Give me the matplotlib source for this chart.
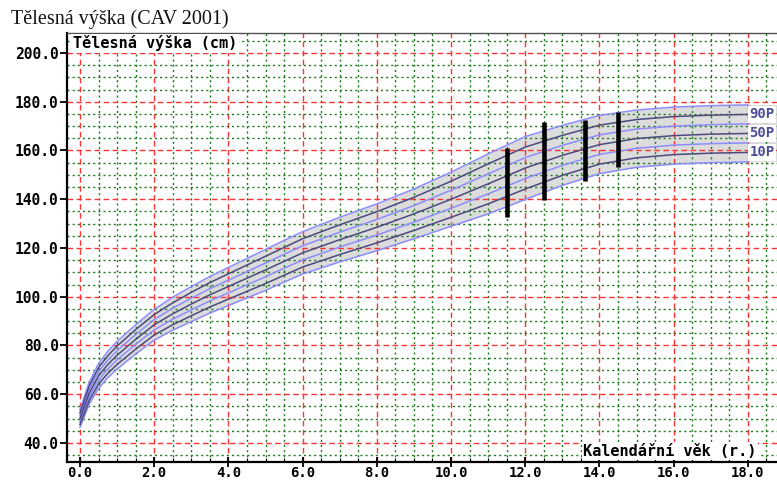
import matplotlib
matplotlib.use("Agg")
import matplotlib.pyplot as plt
from matplotlib.ticker import MultipleLocator, FormatStrFormatter

# ---- data ----
ages = [0, 0.25, 0.5, 0.75, 1, 1.5, 2, 2.5, 3, 3.5, 4, 4.5, 5, 5.5, 6, 7, 8, 9, 10,
        11, 12, 13, 14, 15, 16, 17, 18]
p3  = [46.4, 56.0, 62.4, 66.8, 70.3, 76.5, 82.2, 86.3, 89.8, 93.3, 96.4, 99.5, 102.6, 106.0,
       109.3, 114.3, 118.9, 123.8, 128.9, 134.0, 139.9, 145.7, 150.5, 153.1, 154.4, 155.0, 155.3]
p10 = [47.6, 57.5, 64.1, 68.6, 72.2, 78.5, 84.3, 88.5, 92.2, 95.8, 99.0, 102.2, 105.4, 108.8,
       112.2, 117.3, 122.1, 127.2, 132.6, 138.1, 144.2, 149.8, 154.4, 157.0, 158.3, 158.9, 159.2]
p25 = [48.8, 59.0, 65.8, 70.4, 74.1, 80.5, 86.4, 90.8, 94.6, 98.3, 101.6, 104.9, 108.2, 111.7,
       115.1, 120.4, 125.3, 130.6, 136.3, 142.2, 148.5, 153.9, 158.4, 160.9, 162.2, 162.8, 163.1]
p50 = [50.0, 60.5, 67.5, 72.2, 76.0, 82.5, 88.5, 93.0, 97.0, 100.8, 104.2, 107.6, 111.0, 114.5,
       118.0, 123.4, 128.5, 134.0, 140.0, 146.3, 152.8, 158.0, 162.4, 164.9, 166.1, 166.7, 167.0]
p75 = [51.2, 62.0, 69.2, 74.0, 77.9, 84.5, 90.6, 95.3, 99.4, 103.3, 106.8, 110.3, 113.8, 117.4,
       120.9, 126.5, 131.7, 137.4, 143.7, 150.4, 157.1, 162.1, 166.4, 168.8, 170.0, 170.6, 170.9]
p90 = [52.4, 63.5, 70.9, 75.8, 79.8, 86.5, 92.7, 97.5, 101.8, 105.8, 109.4, 113.0, 116.6, 120.2,
       123.8, 129.5, 134.9, 140.8, 147.4, 154.5, 161.4, 166.2, 170.4, 172.7, 173.9, 174.5, 174.8]
p97 = [53.6, 65.0, 72.6, 77.6, 81.7, 88.5, 94.8, 99.8, 104.2, 108.3, 112.0, 115.7, 119.4, 123.1,
       126.7, 132.6, 138.1, 144.2, 151.1, 158.6, 165.7, 170.3, 174.4, 176.6, 177.8, 178.4, 178.7]

bar_ages = [11.5, 12.5, 13.6, 14.5]
bar_low  = [132.8, 139.8, 147.5, 153.4]
bar_high = [161.0, 171.8, 172.5, 175.7]

dark_labels = ["90P", "50P", "10P"]
x_ticks = [0, 2, 4, 6, 8, 10, 12, 14, 16, 18]
y_ticks = [40, 60, 80, 100, 120, 140, 160, 180, 200]

title = "Tělesná výška (CAV 2001)"
ylabel = "Tělesná výška (cm)"
xlabel = "Kalendářní věk (r.)"

# ---- figure ----
W, H = 777, 480
fig = plt.figure(figsize=(W / 100, H / 100), dpi=100)
fig.patch.set_facecolor("white")
ax = fig.add_axes([67 / W, 18 / H, 718 / W, 429 / H])
XMIN, XMAX = -0.35, 19.0
ax.set_xlim(XMIN, XMAX)
ax.set_ylim(32.2, 208.2)

mono = "DejaVu Sans Mono"

# band
ax.fill_between(ages, p3, p97, color="#dcdcdc", lw=0, zorder=1)
ax.fill_between([ages[-1], XMAX], [p3[-1]] * 2, [p97[-1]] * 2, color="#dcdcdc", lw=0, zorder=1)

light = "#8c8cff"
dark = "#4a4a7e"
for arr in (p97, p75, p25, p3):
    ax.plot(ages, arr, color=light, lw=1.1, zorder=2)
for arr in (p90, p50, p10):
    ax.plot(ages, arr, color=dark, lw=1.1, zorder=2.1)

for val, name in zip((p90[-1], p50[-1], p10[-1]), dark_labels):
    ax.text(ages[-1] + 0.04, val, name, ha="left", va="center", color="#4b4b9a",
            fontfamily=mono, fontweight="bold", fontsize=10,
            bbox=dict(boxstyle="square,pad=0.12", fc="white", ec="none"), zorder=4)

# measurement bars
ax.vlines(bar_ages, bar_low, bar_high, color="black", lw=3.3, zorder=3)

# grid
ax.xaxis.set_major_locator(plt.FixedLocator(x_ticks))
ax.yaxis.set_major_locator(plt.FixedLocator(y_ticks))
ax.xaxis.set_minor_locator(MultipleLocator(0.5))
ax.yaxis.set_minor_locator(MultipleLocator(5))
ax.xaxis.set_major_formatter(FormatStrFormatter("%.1f"))
ax.yaxis.set_major_formatter(FormatStrFormatter("%.1f"))
ax.set_axisbelow("line")
ax.grid(which="major", color="#ff3333", ls=(0, (4, 2.5)), lw=1.0)
ax.grid(which="minor", color="#1c7a1c", ls=(0, (1.5, 2.2)), lw=1.0)

ax.tick_params(axis="y", which="major", direction="out", length=5, width=1.3, pad=1,
               labelsize=10.5)
ax.tick_params(axis="y", which="minor", length=0)
ax.tick_params(axis="x", which="major", direction="inout", length=6.5, width=1.3, pad=-0.2,
               labelsize=10)
ax.tick_params(axis="x", which="minor", direction="in", length=3, width=0.8)
for lab in ax.get_xticklabels() + ax.get_yticklabels():
    lab.set_fontfamily(mono)
    lab.set_fontweight("bold")

ax.spines["left"].set_linewidth(1.6)
ax.spines["bottom"].set_linewidth(1.6)
ax.spines["top"].set_linewidth(1.0)
ax.spines["top"].set_color("#505050")
ax.spines["right"].set_visible(False)

# axis captions inside the plot with white background
ax.text(0.008, 0.995, ylabel, transform=ax.transAxes, ha="left", va="top",
        fontfamily=mono, fontweight="bold", fontsize=11, color="black",
        bbox=dict(boxstyle="square,pad=0.1", fc="white", ec="none"), zorder=5)
ax.text(0.719, 0.0255, xlabel, transform=ax.transAxes, ha="left", va="center",
        fontfamily=mono, fontweight="bold", fontsize=11, color="black",
        bbox=dict(boxstyle="square,pad=0.08", fc="white", ec="none"), zorder=5)

fig.text(11 / W, 1 - 19 / H, title, ha="left", va="center",
         fontfamily="Liberation Serif", fontsize=14.5, color="#111111")

fig.savefig("out.png", dpi=100, facecolor="white")
